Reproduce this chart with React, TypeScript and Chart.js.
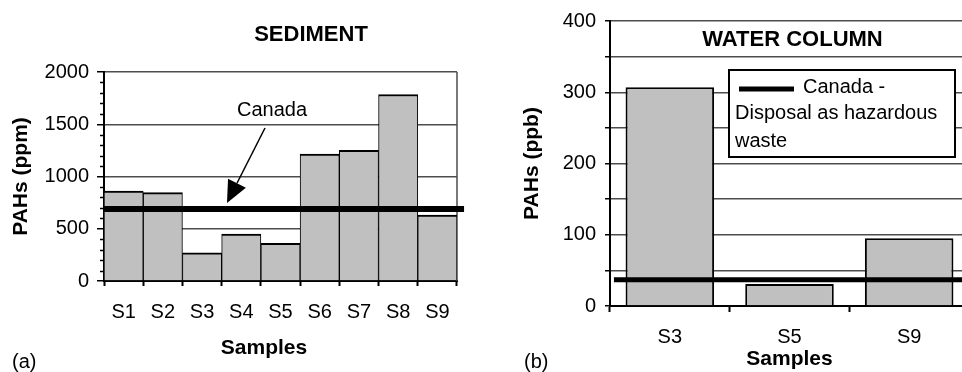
import React, { useEffect, useRef } from "react";
import { Chart, registerables } from "chart.js";

Chart.register(...registerables);

const FONT = "'Liberation Sans', Arial, Helvetica, sans-serif";
Chart.defaults.font.family = FONT;
Chart.defaults.color = "#000";

// ---------- Data: (a) SEDIMENT ----------
const sedimentSamples = ["S1", "S2", "S3", "S4", "S5", "S6", "S7", "S8", "S9"];
const sedimentPAHs = [860, 845, 270, 450, 360, 1215, 1250, 1785, 630];
const sedimentCanadaLimit = 690;
const sedimentYMax = 2000;
const sedimentYStep = 500;
const sedimentYMinorStep = 100;

// ---------- Data: (b) WATER COLUMN ----------
const waterSamples = ["S3", "S5", "S9"];
const waterPAHs = [307, 31, 95];
const waterCanadaLimit = 37;
const waterYMax = 400;
const waterYStep = 50;
const waterYLabelStep = 100;
const waterLegendLines = ["Canada -", "Disposal as hazardous", "waste"];

const BAR_FILL = "#c0c0c0";
const GRID = "#4d4d4d";

const sedimentDecor = {
  id: "sedimentDecor",
  beforeDatasetsDraw(chart: any) {
    const { ctx, chartArea: ca } = chart;
    ctx.save();
    ctx.strokeStyle = GRID;
    ctx.lineWidth = 1.5;
    ctx.beginPath();
    ctx.moveTo(ca.right, ca.top);
    ctx.lineTo(ca.right, ca.bottom);
    ctx.stroke();
    ctx.restore();
  },
  afterDraw(chart: any) {
    const { ctx, chartArea: ca } = chart;
    const y = chart.scales.y;
    ctx.save();
    // minor ticks
    ctx.strokeStyle = "#000";
    ctx.lineWidth = 1.5;
    for (let v = sedimentYMinorStep; v < sedimentYMax; v += sedimentYMinorStep) {
      if (v % sedimentYStep === 0) continue;
      const py = Math.round(y.getPixelForValue(v)) + 0.5;
      ctx.beginPath();
      ctx.moveTo(ca.left - 4, py);
      ctx.lineTo(ca.left, py);
      ctx.stroke();
    }
    // title
    ctx.fillStyle = "#000";
    ctx.textAlign = "center";
    ctx.textBaseline = "middle";
    ctx.font = `bold 22px ${FONT}`;
    ctx.fillText("SEDIMENT", ca.left + 207, ca.top - 37);
    // x-axis title
    ctx.font = `bold 21px ${FONT}`;
    ctx.fillText("Samples", ca.left + 160, ca.bottom + 67);
    // annotation text
    ctx.font = `20px ${FONT}`;
    ctx.fillText("Canada", ca.left + 168, ca.top + 38);
    // arrow
    const tipX = ca.left + 123;
    const tipY = y.getPixelForValue(sedimentCanadaLimit) - 6;
    const sx = ca.left + 161;
    const sy = ca.top + 56;
    const dx = tipX - sx, dy = tipY - sy;
    const len = Math.hypot(dx, dy);
    const ux = dx / len, uy = dy / len;
    const headLen = 22, half = 10;
    const bx = tipX - ux * headLen, by = tipY - uy * headLen;
    ctx.strokeStyle = "#000";
    ctx.lineWidth = 1.5;
    ctx.beginPath();
    ctx.moveTo(sx, sy);
    ctx.lineTo(bx, by);
    ctx.stroke();
    ctx.beginPath();
    ctx.moveTo(tipX, tipY);
    ctx.lineTo(bx - uy * half, by + ux * half);
    ctx.lineTo(bx + uy * half, by - ux * half);
    ctx.closePath();
    ctx.fillStyle = "#000";
    ctx.fill();
    // panel label
    ctx.textAlign = "left";
    ctx.font = `20px ${FONT}`;
    ctx.fillText("(a)", 12, 362);
    ctx.restore();
  },
};

const waterDecor = {
  id: "waterDecor",
  afterDatasetsDraw(chart: any) {
    const { ctx, chartArea: ca } = chart;
    ctx.save();
    ctx.fillStyle = "#000";
    ctx.textAlign = "center";
    ctx.textBaseline = "middle";
    ctx.font = `bold 22px ${FONT}`;
    ctx.fillText("WATER COLUMN", (ca.left + ca.right) / 2 + 3, ca.top + 19);
    // legend box
    const bx = ca.left + 119, by = ca.top + 49, bw = 226, bh = 87;
    ctx.fillStyle = "#fff";
    ctx.fillRect(bx, by, bw, bh);
    ctx.strokeStyle = "#000";
    ctx.lineWidth = 2;
    ctx.strokeRect(bx, by, bw, bh);
    ctx.lineWidth = 5;
    ctx.beginPath();
    ctx.moveTo(bx + 10, by + 19);
    ctx.lineTo(bx + 65, by + 19);
    ctx.stroke();
    ctx.fillStyle = "#000";
    ctx.textAlign = "left";
    ctx.font = `20px ${FONT}`;
    ctx.fillText(waterLegendLines[0], bx + 74, by + 17);
    ctx.fillText(waterLegendLines[1], bx + 6, by + 43);
    ctx.fillText(waterLegendLines[2], bx + 6, by + 71);
    // panel label
    ctx.fillText("(b)", 43, 362);
    ctx.restore();
  },
};

const hiddenLinearX = {
  type: "linear",
  display: false,
  min: 0,
  max: 1,
  offset: false,
  grid: { offset: false },
};

function SedimentChart() {
  const ref = useRef<HTMLCanvasElement>(null);
  useEffect(() => {
    if (!ref.current) return;
    const chart = new Chart(ref.current, {
      type: "bar",
      data: {
        labels: sedimentSamples,
        datasets: [
          {
            type: "line",
            label: "Canada",
            data: [
              { x: 0, y: sedimentCanadaLimit },
              { x: 1.02, y: sedimentCanadaLimit },
            ],
            xAxisID: "xl",
            yAxisID: "y",
            borderColor: "#000",
            borderWidth: 6,
            pointRadius: 0,
            clip: false,
            order: 0,
            fill: false,
          } as any,
          {
            type: "bar",
            label: "PAHs",
            data: sedimentPAHs,
            xAxisID: "x",
            yAxisID: "y",
            backgroundColor: BAR_FILL,
            borderColor: "#000",
            borderWidth: { top: 2, left: 1, right: 1, bottom: 0 },
            borderSkipped: "start",
            grouped: false,
            barPercentage: 1,
            categoryPercentage: 1,
            order: 1,
          } as any,
        ],
      },
      options: {
        animation: false,
        responsive: false,
        maintainAspectRatio: false,
        devicePixelRatio: 1,
        layout: { padding: { top: 72, left: 6, right: 24, bottom: 11 } },
        plugins: {
          legend: { display: false },
          tooltip: { enabled: false },
          title: { display: false },
        },
        scales: {
          x: {
            type: "category",
            offset: true,
            grid: {
              display: true,
              drawOnChartArea: false,
              drawTicks: true,
              tickLength: 5,
              tickColor: "#000",
              tickWidth: 2,
              offset: true,
            },
            border: { display: true, color: "#000", width: 2 },
            ticks: {
              color: "#000",
              font: { size: 20, family: FONT },
              padding: 14,
              maxRotation: 0,
              autoSkip: false,
            },
            afterFit: (s: any) => {
              s.height = 80;
            },
          },
          xl: hiddenLinearX,
          y: {
            min: 0,
            max: sedimentYMax,
            ticks: {
              stepSize: sedimentYStep,
              padding: 8,
              color: "#000",
              font: { size: 20, family: FONT },
              autoSkip: false,
              callback: (v: any) => String(v),
            },
            grid: {
              color: (c: any) => (c.tick && c.tick.value === 0 ? "rgba(0,0,0,0)" : GRID),
              lineWidth: 1.5,
              tickLength: 7,
              tickColor: "#000",
              tickWidth: 1.5,
            },
            border: { display: true, color: "#000", width: 2 },
            title: {
              display: true,
              text: "PAHs (ppm)",
              color: "#000",
              font: { size: 21, weight: "bold", family: FONT },
              padding: { top: 3, bottom: 0 },
            },
            afterFit: (s: any) => {
              s.width = 98;
            },
          },
        },
      } as any,
      plugins: [sedimentDecor],
    });
    return () => chart.destroy();
  }, []);
  return <canvas ref={ref} width={481} height={372} style={{ display: "block" }} />;
}

function WaterChart() {
  const ref = useRef<HTMLCanvasElement>(null);
  useEffect(() => {
    if (!ref.current) return;
    const chart = new Chart(ref.current, {
      type: "bar",
      data: {
        labels: waterSamples,
        datasets: [
          {
            type: "line",
            label: waterLegendLines.join(" "),
            data: [
              { x: 0.011, y: waterCanadaLimit },
              { x: 1.05, y: waterCanadaLimit },
            ],
            xAxisID: "xl",
            yAxisID: "y",
            borderColor: "#000",
            borderWidth: 5,
            pointRadius: 0,
            clip: false,
            order: 0,
            fill: false,
          } as any,
          {
            type: "bar",
            label: "PAHs",
            data: waterPAHs,
            xAxisID: "x",
            yAxisID: "y",
            backgroundColor: BAR_FILL,
            borderColor: "#000",
            borderWidth: 2,
            borderSkipped: "start",
            grouped: false,
            barPercentage: 0.74,
            categoryPercentage: 1,
            order: 1,
          } as any,
        ],
      },
      options: {
        animation: false,
        responsive: false,
        maintainAspectRatio: false,
        devicePixelRatio: 1,
        layout: { padding: { top: 21, left: 36, right: 0, bottom: 0 } },
        plugins: {
          legend: { display: false },
          tooltip: { enabled: false },
          title: { display: false },
        },
        scales: {
          x: {
            type: "category",
            offset: true,
            grid: {
              display: true,
              drawOnChartArea: false,
              drawTicks: true,
              tickLength: 6,
              tickColor: "#000",
              tickWidth: 2,
              offset: true,
            },
            border: { display: true, color: "#000", width: 2 },
            ticks: {
              color: "#000",
              font: { size: 20, family: FONT },
              padding: 13,
              maxRotation: 0,
              autoSkip: false,
            },
            title: {
              display: true,
              text: "Samples",
              color: "#000",
              font: { size: 21, weight: "bold", family: FONT },
              padding: { top: 0, bottom: 0 },
            },
            afterFit: (s: any) => {
              s.height = 66;
            },
          },
          xl: hiddenLinearX,
          y: {
            min: 0,
            max: waterYMax,
            ticks: {
              stepSize: waterYStep,
              padding: 9,
              color: "#000",
              font: { size: 20, family: FONT },
              autoSkip: false,
              callback: (v: any) => (Number(v) % waterYLabelStep === 0 ? String(v) : ""),
            },
            grid: {
              color: (c: any) => (c.tick && c.tick.value === 0 ? "rgba(0,0,0,0)" : GRID),
              lineWidth: 1.5,
              tickLength: 5,
              tickColor: "#000",
              tickWidth: 1.5,
            },
            border: { display: true, color: "#000", width: 2 },
            title: {
              display: true,
              text: "PAHs (ppb)",
              color: "#000",
              font: { size: 21, weight: "bold", family: FONT },
              padding: { top: 3, bottom: 0 },
            },
            afterFit: (s: any) => {
              s.width = 93;
            },
          },
        },
      } as any,
      plugins: [waterDecor],
    });
    return () => chart.destroy();
  }, []);
  return <canvas ref={ref} width={488} height={372} style={{ display: "block" }} />;
}

export default function App() {
  useEffect(() => {
    document.body.style.margin = "0";
  }, []);
  return (
    <div
      style={{
        position: "fixed",
        left: 0,
        top: 0,
        width: 962,
        height: 372,
        background: "#fff",
        overflow: "hidden",
      }}
    >
      <div style={{ position: "absolute", left: 0, top: 0, width: 481, height: 372 }}>
        <SedimentChart />
      </div>
      <div
        style={{
          position: "absolute",
          left: 481,
          top: 0,
          width: 481,
          height: 372,
          overflow: "hidden",
        }}
      >
        <WaterChart />
      </div>
    </div>
  );
}
